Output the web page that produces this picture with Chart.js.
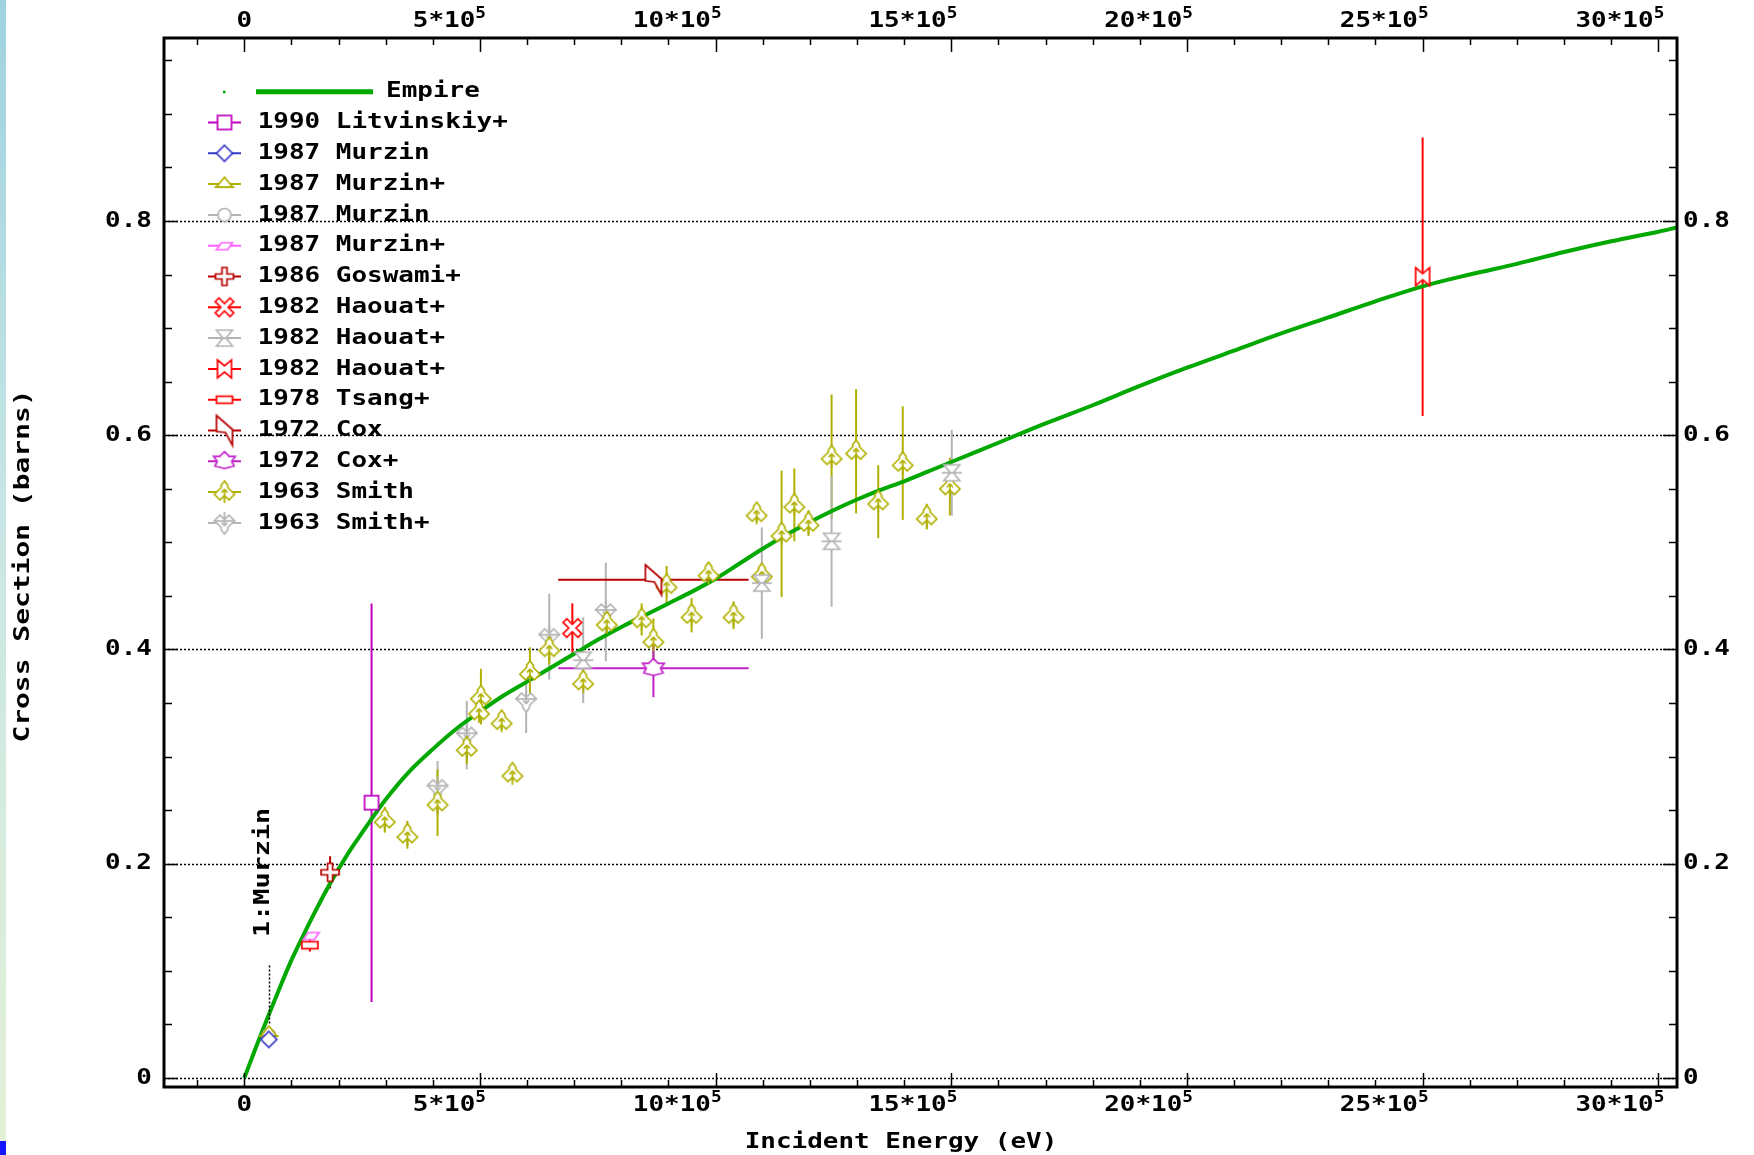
<!DOCTYPE html>
<html>
<head>
<meta charset="utf-8">
<title>Cross Section vs Incident Energy</title>
<script src="https://cdn.jsdelivr.net/npm/chart.js@4.4.1/dist/chart.umd.min.js"></script>
<style>
  html, body { margin: 0; padding: 0; background: #ffffff; }
  canvas { display: block; }
</style>
</head>
<body>
<canvas id="chart" width="1754" height="1155"></canvas>
<script>
// ---- Data (energy in eV, cross section in barns) ----
const empireE  = [0, 0.25e5, 0.5e5, 0.75e5, 1.0e5, 1.25e5, 1.5e5, 1.75e5, 2.0e5, 2.25e5, 2.5e5, 2.75e5, 3.0e5, 3.5e5, 4.0e5, 4.5e5, 5.0e5, 5.5e5, 6.0e5, 6.5e5, 7.0e5, 7.5e5, 8.0e5, 8.5e5, 9.0e5, 9.5e5, 10.0e5, 10.5e5, 11.0e5, 11.5e5, 12.0e5, 12.5e5, 13.0e5, 13.5e5, 14.0e5, 14.5e5, 15.0e5, 15.5e5, 16.0e5, 17.0e5, 18.0e5, 19.0e5, 20.0e5, 21.0e5, 22.0e5, 23.0e5, 24.0e5, 25.0e5, 26.0e5, 27.0e5, 28.0e5, 29.0e5, 30.0e5, 30.4e5];
const empireXS = [0, 0.029, 0.057, 0.084, 0.110, 0.133, 0.155, 0.176, 0.195, 0.213, 0.229, 0.245, 0.260, 0.286, 0.307, 0.326, 0.342, 0.357, 0.370, 0.383, 0.396, 0.409, 0.421, 0.432, 0.443, 0.454, 0.466, 0.480, 0.494, 0.507, 0.519, 0.530, 0.540, 0.549, 0.557, 0.566, 0.575, 0.584, 0.593, 0.611, 0.628, 0.646, 0.663, 0.679, 0.695, 0.710, 0.725, 0.739, 0.750, 0.760, 0.771, 0.781, 0.790, 0.794];

const litvinskiyE = [2.70e5];
const litvinskiyXS = [0.257];
const litvinskiyDXS = [0.186];

const murzinE = [0.52e5];
const murzinXS = [0.036];

const murzinPlusE = [0.52e5];
const murzinPlusXS = [0.042];

const murzinGreyE = [0.52e5];
const murzinGreyXS = [0.040];

const murzinPinkE = [1.42e5];
const murzinPinkXS = [0.133];

const goswamiE = [1.82e5];
const goswamiXS = [0.192];
const goswamiDXS = [0.015];

const haouatRedE = [6.96e5];
const haouatRedXS = [0.420];
const haouatRedDXS = [0.023];

const haouatGreyE = [7.19e5, 10.98e5, 12.46e5, 15.01e5];
const haouatGreyXS = [0.390, 0.462, 0.501, 0.565];
const haouatGreyDXS = [0.040, 0.052, 0.061, 0.040];

const haouatHighE = [25.0e5];
const haouatHighXS = [0.748];
const haouatHighDXS = [0.130];

const tsangE = [1.39e5];
const tsangXS = [0.124];
const tsangDXS = [0.006];

const coxE = [8.68e5];
const coxXS = [0.465];
const coxDE = [2.02e5];

const coxPlusE = [8.68e5];
const coxPlusXS = [0.3825];
const coxPlusDE = [2.02e5];
const coxPlusDXS = [0.027];

const smithE = [2.98e5, 3.46e5, 4.10e5, 4.72e5, 5.02e5, 4.98e5, 5.46e5, 5.69e5, 6.06e5, 6.47e5, 7.19e5, 7.69e5, 8.43e5, 8.68e5, 8.96e5, 9.49e5, 9.85e5, 10.38e5, 10.87e5, 10.98e5, 11.40e5, 11.67e5, 11.97e5, 12.46e5, 12.98e5, 13.45e5, 13.97e5, 14.48e5, 14.97e5];
const smithXS = [0.241, 0.227, 0.257, 0.308, 0.356, 0.342, 0.333, 0.284, 0.379, 0.401, 0.370, 0.425, 0.428, 0.409, 0.460, 0.432, 0.471, 0.432, 0.527, 0.470, 0.508, 0.535, 0.518, 0.580, 0.585, 0.538, 0.574, 0.524, 0.552];
const smithDXS = [0.012, 0.013, 0.031, 0.015, 0.026, 0.010, 0.008, 0.006, 0.023, 0.015, 0.012, 0.012, 0.015, 0.020, 0.018, 0.016, 0.010, 0.013, 0.008, 0.010, 0.059, 0.034, 0.012, 0.058, 0.058, 0.034, 0.053, 0.012, 0.027];

const smithPlusE = [4.10e5, 4.72e5, 5.98e5, 6.47e5, 7.67e5];
const smithPlusXS = [0.271, 0.320, 0.352, 0.412, 0.435];
const smithPlusDXS = [0.025, 0.032, 0.030, 0.040, 0.046];

// ---- Axis ticks ----
const xTickValues = [0, 5e5, 10e5, 15e5, 20e5, 25e5, 30e5];
const xTickLabels = ['0', '5*10^5', '10*10^5', '15*10^5', '20*10^5', '25*10^5', '30*10^5'];
const yTickValues = [0, 0.2, 0.4, 0.6, 0.8];
const yTickLabels = ['0', '0.2', '0.4', '0.6', '0.8'];
const xTitle = 'Incident Energy (eV)';
const yTitle = 'Cross Section (barns)';
const pointNote = '1:Murzin';

// ---- Marker glyphs ----
function markerCanvas(color, draw) {
  const c = document.createElement('canvas');
  c.width = 40; c.height = 40;
  const g = c.getContext('2d');
  g.translate(20, 20);
  g.strokeStyle = color;
  g.fillStyle = '#ffffff';
  g.lineWidth = 1.7;
  g.lineJoin = 'miter';
  draw(g);
  return c;
}
function poly(g, pts) {
  g.beginPath();
  pts.forEach(([x, y], i) => (i ? g.lineTo(x, y) : g.moveTo(x, y)));
  g.closePath();
  g.fill();
  g.stroke();
}
function seg(g, x1, y1, x2, y2) {
  g.beginPath(); g.moveTo(x1, y1); g.lineTo(x2, y2); g.stroke();
}
function plusPts(a, b) {
  return [[-a, -b], [a, -b], [a, -a], [b, -a], [b, a], [a, a], [a, b], [-a, b], [-a, a], [-b, a], [-b, -a], [-a, -a]];
}
function rot45(pts) {
  const c = Math.SQRT1_2;
  return pts.map(([x, y]) => [(x - y) * c, (x + y) * c]);
}
function scaled(pts, s) { return pts.map(([x, y]) => [x * s, y * s]); }
const smithShape = scaled([[0, -10], [3, -6], [3, -4], [9, 2], [4, 7], [0, 3], [-4, 7], [-9, 2], [-3, -4], [-3, -6]], 1.12);

const C = {
  empire: '#00a800', litvinskiy: '#c000c0', murzin: '#3838c8', olive: '#b0b000',
  grey: '#b4b4b4', pink: '#ff60ff', darkred: '#b80000', red: '#ff0000', coxPlus: '#c020c8'
};

const mk = {
  square: markerCanvas(C.litvinskiy, g => { g.fillRect(-7, -7, 14, 14); g.strokeRect(-7, -7, 14, 14); }),
  diamond: markerCanvas(C.murzin, g => poly(g, [[0, -8], [8, 0], [0, 8], [-8, 0]])),
  triangle: markerCanvas(C.olive, g => { poly(g, [[0, -7], [8, 3], [-8, 3]]); seg(g, -10, 3, 10, 3); }),
  circle: markerCanvas(C.grey, g => { g.beginPath(); g.arc(0, 0, 6.5, 0, Math.PI * 2); g.fill(); g.stroke(); }),
  parallelogram: markerCanvas(C.pink, g => poly(g, [[-8, 4], [-3, -3], [8, -3], [3, 4]])),
  plus: markerCanvas(C.darkred, g => poly(g, plusPts(2.5, 9))),
  xcross: markerCanvas(C.red, g => poly(g, rot45(plusPts(2.6, 10.5)))),
  hourglass: markerCanvas(C.grey, g => { poly(g, [[-8, -8], [8, -8], [1.5, 0], [8, 8], [-8, 8], [-1.5, 0]]); seg(g, -10, 0, 10, 0); }),
  bowtie: markerCanvas(C.red, g => poly(g, [[-7, -9], [0, -3], [7, -9], [7, 9], [0, 3], [-7, 9]])),
  rectH: markerCanvas(C.red, g => { g.fillRect(-8, -3.5, 16, 7); g.strokeRect(-8, -3.5, 16, 7); }),
  pennant: markerCanvas(C.darkred, g => poly(g, [[-8, -15], [8, -1], [8, 15], [1, 2], [-8, 1]])),
  coxPlus: markerCanvas(C.coxPlus, g => poly(g, scaled([[0, -8], [4, -4], [9, -4], [6, 0], [8, 4], [0, 6], [-8, 4], [-6, 0], [-9, -4], [-4, -4]], 1.2))),
  smith: markerCanvas(C.olive, g => {
    poly(g, smithShape);
    seg(g, 0, -3, 0, 11); seg(g, -3, 0.5, 0, -3); seg(g, 3, 0.5, 0, -3);
  }),
  smithPlus: markerCanvas(C.grey, g => {
    poly(g, smithShape.map(([x, y]) => [x, -y]));
    seg(g, 0, 3, 0, -11); seg(g, -3, -0.5, 0, 3); seg(g, 3, -0.5, 0, 3);
    seg(g, -11, -2, 11, -2);
  })
};

function pts(E, XS) { return E.map((e, i) => ({ x: e, y: XS[i] })); }

function series(label, color, marker, E, XS, dXS, dE) {
  return {
    label, data: pts(E, XS), pointStyle: marker, pointRadius: 6, showLine: false,
    borderColor: color, backgroundColor: color, barColor: color,
    errY: dXS || null, errX: dE || null, order: 0
  };
}

const datasets = [
  {
    label: 'Empire', data: pts(empireE, empireXS), showLine: true, pointRadius: 0,
    borderColor: C.empire, backgroundColor: C.empire, borderWidth: 4,
    cubicInterpolationMode: 'monotone', order: 10, barColor: C.empire
  },
  series('1990 Litvinskiy+', C.litvinskiy, mk.square, litvinskiyE, litvinskiyXS, litvinskiyDXS),
  series('1987 Murzin', C.murzin, mk.diamond, murzinE, murzinXS),
  series('1987 Murzin+', C.olive, mk.triangle, murzinPlusE, murzinPlusXS),
  series('1987 Murzin', C.grey, mk.circle, murzinGreyE, murzinGreyXS),
  series('1987 Murzin+', C.pink, mk.parallelogram, murzinPinkE, murzinPinkXS),
  series('1986 Goswami+', C.darkred, mk.plus, goswamiE, goswamiXS, goswamiDXS),
  series('1982 Haouat+', C.red, mk.xcross, haouatRedE, haouatRedXS, haouatRedDXS),
  series('1982 Haouat+', C.grey, mk.hourglass, haouatGreyE, haouatGreyXS, haouatGreyDXS),
  series('1982 Haouat+', C.red, mk.bowtie, haouatHighE, haouatHighXS, haouatHighDXS),
  series('1978 Tsang+', C.red, mk.rectH, tsangE, tsangXS, tsangDXS),
  series('1972 Cox', C.darkred, mk.pennant, coxE, coxXS, null, coxDE),
  series('1972 Cox+', C.coxPlus, mk.coxPlus, coxPlusE, coxPlusXS, coxPlusDXS, coxPlusDE),
  series('1963 Smith', C.olive, mk.smith, smithE, smithXS, smithDXS),
  series('1963 Smith+', C.grey, mk.smithPlus, smithPlusE, smithPlusXS, smithPlusDXS)
];

// ---- Text helper: bold mono, horizontally widened ----
const FONT = '"DejaVu Sans Mono", "Liberation Mono", monospace';
const TEXT_SIZE = 22;
const TEXT_SX = 1.18;
function textWidth(ctx, txt, size, sx) {
  ctx.save();
  ctx.font = `bold ${size}px ${FONT}`;
  const w = ctx.measureText(txt).width * sx;
  ctx.restore();
  return w;
}
function drawText(ctx, txt, x, y, align, size = TEXT_SIZE, sx = TEXT_SX) {
  const w = textWidth(ctx, txt, size, sx);
  const left = align === 'left' ? x : align === 'right' ? x - w : x - w / 2;
  ctx.save();
  ctx.font = `bold ${size}px ${FONT}`;
  ctx.fillStyle = '#000000';
  ctx.textAlign = 'left';
  ctx.textBaseline = 'middle';
  ctx.translate(left, y);
  ctx.scale(sx, 1);
  ctx.fillText(txt, 0, 0);
  ctx.restore();
  return w;
}
function drawPowerLabel(ctx, label, tickX, y) {
  if (label.indexOf('^') < 0) { drawText(ctx, label, tickX, y, 'center'); return; }
  const [base, sup] = label.split('^');
  const supSize = 15;
  const wb = textWidth(ctx, base, TEXT_SIZE, TEXT_SX);
  const ws = textWidth(ctx, sup, supSize, TEXT_SX);
  const left = tickX + 6 - wb - ws;
  drawText(ctx, base, left, y, 'left');
  drawText(ctx, sup, left + wb, y - 7, 'left', supSize, TEXT_SX);
}

// ---- Plugins ----
const backdrop = {
  id: 'backdrop',
  beforeDraw(chart) {
    const { ctx } = chart;
    ctx.save();
    const grad = ctx.createLinearGradient(0, 0, 0, chart.height);
    grad.addColorStop(0, '#9fd2e0');
    grad.addColorStop(0.45, '#c8e6e4');
    grad.addColorStop(1, '#e4f1d6');
    ctx.fillStyle = grad;
    ctx.fillRect(0, 0, 6, chart.height);
    ctx.fillStyle = '#1414ff';
    ctx.fillRect(0, 1141, 6, 14);
    ctx.restore();
  }
};

const gridAndErrors = {
  id: 'gridAndErrors',
  beforeDatasetsDraw(chart) {
    const { ctx, chartArea: a, scales: { x, y } } = chart;
    ctx.save();
    // dotted horizontal grid
    ctx.strokeStyle = '#000000';
    ctx.lineWidth = 1.5;
    ctx.setLineDash([2, 2]);
    yTickValues.forEach(v => {
      const py = Math.round(y.getPixelForValue(v)) + 0.5;
      ctx.beginPath(); ctx.moveTo(a.left, py); ctx.lineTo(a.right, py); ctx.stroke();
    });
    ctx.setLineDash([]);
    // error bars, drawn beneath the markers
    ctx.lineWidth = 2;
    for (let d = chart.data.datasets.length - 1; d >= 0; d--) {
      const ds = chart.data.datasets[d];
      if (!ds.errY && !ds.errX) continue;
      ctx.strokeStyle = ds.barColor;
      ds.data.forEach((p, i) => {
        const px = x.getPixelForValue(p.x), py = y.getPixelForValue(p.y);
        const ey = ds.errY ? ds.errY[i] : 0;
        const ex = ds.errX ? ds.errX[i] : 0;
        if (ey) {
          ctx.beginPath();
          ctx.moveTo(px, y.getPixelForValue(p.y - ey));
          ctx.lineTo(px, y.getPixelForValue(p.y + ey));
          ctx.stroke();
        }
        if (ex) {
          ctx.beginPath();
          ctx.moveTo(x.getPixelForValue(p.x - ex), py);
          ctx.lineTo(x.getPixelForValue(p.x + ex), py);
          ctx.stroke();
        }
      });
    }
    ctx.restore();
  }
};

const frameAndLabels = {
  id: 'frameAndLabels',
  afterDraw(chart) {
    const { ctx, chartArea: a, scales: { x, y } } = chart;
    ctx.save();
    // ticks
    ctx.strokeStyle = '#000000';
    ctx.lineWidth = 1.5;
    for (let k = -1; k <= 30; k++) {
      const px = Math.round(x.getPixelForValue(k * 1e5)) + 0.5;
      const len = k % 5 === 0 ? 14 : 7;
      ctx.beginPath();
      ctx.moveTo(px, a.top); ctx.lineTo(px, a.top + len);
      ctx.moveTo(px, a.bottom); ctx.lineTo(px, a.bottom - len);
      ctx.stroke();
    }
    for (let k = 0; k <= 19; k++) {
      const v = k * 0.05;
      const py = Math.round(y.getPixelForValue(v)) + 0.5;
      const len = k % 4 === 0 ? 14 : 8;
      ctx.beginPath();
      ctx.moveTo(a.left, py); ctx.lineTo(a.left + len, py);
      ctx.moveTo(a.right, py); ctx.lineTo(a.right - len, py);
      ctx.stroke();
    }
    // frame
    ctx.lineWidth = 3;
    ctx.strokeRect(a.left, a.top, a.right - a.left, a.bottom - a.top);

    // tick labels
    xTickValues.forEach((v, i) => {
      const px = x.getPixelForValue(v);
      drawPowerLabel(ctx, xTickLabels[i], px, 21);
      drawPowerLabel(ctx, xTickLabels[i], px, 1105);
    });
    yTickValues.forEach((v, i) => {
      const py = y.getPixelForValue(v);
      drawText(ctx, yTickLabels[i], a.left - 12, py, 'right');
      drawText(ctx, yTickLabels[i], a.right + 6, py, 'left');
    });

    // axis titles
    drawText(ctx, xTitle, 901, 1142, 'center');
    ctx.save();
    ctx.translate(23, 566);
    ctx.rotate(-Math.PI / 2);
    drawText(ctx, yTitle, 0, 0, 'center', TEXT_SIZE, 1.27);
    ctx.restore();

    // annotation for the first Murzin point
    const mx = Math.round(x.getPixelForValue(murzinE[0])) + 0.5;
    const my = y.getPixelForValue(murzinXS[0]);
    ctx.strokeStyle = '#000000';
    ctx.lineWidth = 1.5;
    ctx.setLineDash([2, 2]);
    ctx.beginPath(); ctx.moveTo(mx, my - 16); ctx.lineTo(mx, my - 74); ctx.stroke();
    ctx.setLineDash([]);
    ctx.save();
    ctx.translate(mx - 6, my - 167);
    ctx.rotate(-Math.PI / 2);
    drawText(ctx, pointNote, 0, 0, 'center', TEXT_SIZE, 1.22);
    ctx.restore();

    // legend
    const rowY0 = 91.7, rowStep = 30.8;
    chart.data.datasets.forEach((ds, i) => {
      const ry = rowY0 + i * rowStep;
      if (i === 0) {
        ctx.fillStyle = ds.borderColor;
        ctx.fillRect(223, ry - 1, 2.5, 2.5);
        ctx.strokeStyle = ds.borderColor;
        ctx.lineWidth = 5;
        ctx.beginPath(); ctx.moveTo(256, ry); ctx.lineTo(373, ry); ctx.stroke();
        drawText(ctx, ds.label, 386, ry, 'left');
        return;
      }
      ctx.strokeStyle = ds.barColor;
      ctx.lineWidth = 2;
      ctx.beginPath(); ctx.moveTo(208, ry); ctx.lineTo(241, ry); ctx.stroke();
      const m = ds.pointStyle;
      ctx.drawImage(m, 224.5 - m.width / 2, ry - m.height / 2);
      drawText(ctx, ds.label, 257.7, ry, 'left');
    });
    ctx.restore();
  }
};

const xMin = -1.7037e5, xMax = 30.397e5;
const yMin = -0.0084, yMax = 0.9708;

new Chart(document.getElementById('chart').getContext('2d'), {
  type: 'scatter',
  data: { datasets },
  options: {
    responsive: false,
    animation: false,
    devicePixelRatio: 1,
    events: [],
    layout: { padding: { left: 164, right: 1754 - 1677, top: 38, bottom: 1155 - 1087 } },
    scales: {
      x: { type: 'linear', min: xMin, max: xMax, display: false },
      y: { type: 'linear', min: yMin, max: yMax, display: false }
    },
    plugins: { legend: { display: false }, tooltip: { enabled: false } }
  },
  plugins: [backdrop, gridAndErrors, frameAndLabels]
});
</script>
</body>
</html>
